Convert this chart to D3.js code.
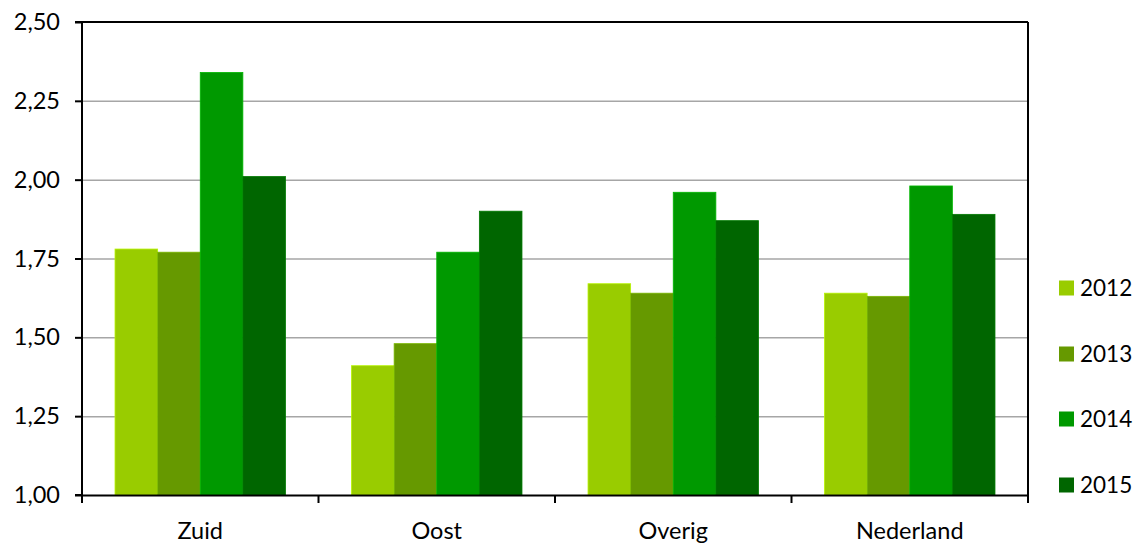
<!DOCTYPE html>
<html><head><meta charset="utf-8">
<script src="https://cdn.jsdelivr.net/npm/d3@7"></script>
<style>body{margin:0;background:#fff}svg{display:block}text{font-family:Lato,"Open Sans",sans-serif;fill:#000}</style>
</head><body><svg id="c" width="1139" height="543"></svg>
<script>
const categories = ["Zuid","Oost","Overig","Nederland"];
const seriesNames = ["2012","2013","2014","2015"];
const v2012 = [1.78,1.41,1.67,1.64];
const v2013 = [1.77,1.48,1.64,1.63];
const v2014 = [2.34,1.77,1.96,1.98];
const v2015 = [2.01,1.90,1.87,1.89];
const yTicks = [1.00,1.25,1.50,1.75,2.00,2.25,2.50];
const colors = ["#99cc00","#669900","#009900","#006600"];
const seriesVals = [v2012,v2013,v2014,v2015];

const svg = d3.select("#c");
const L=82, R=1028, T=22, B=495;
const FS = 23.5;
const x = d3.scaleBand().domain(categories).range([L,R]).paddingInner(0).paddingOuter(0);
const inner = d3.scaleBand().domain(seriesNames).range([0,x.bandwidth()]).paddingOuter(0.775).paddingInner(0);
const y = d3.scaleLinear().domain([1,2.5]).range([B,T]);

// gridlines
svg.append("g").selectAll("line").data(yTicks.slice(1,-1)).join("line")
  .attr("x1",L).attr("x2",R).attr("y1",d=>y(d)+0.5).attr("y2",d=>y(d)+0.5)
  .attr("stroke","#a6a6a6").attr("stroke-width",1.5);

// bars
const g = svg.append("g");
seriesNames.forEach((s,i)=>{
  g.selectAll(null).data(categories).join("rect")
    .attr("x",c=>x(c)+inner(s)).attr("width",inner.bandwidth())
    .attr("y",(c,j)=>y(seriesVals[i][j])).attr("height",(c,j)=>B-y(seriesVals[i][j]))
    .attr("fill",colors[i]).attr("stroke",d3.color(colors[i]).brighter(0.5)).attr("stroke-width",0.8);
});

// border top/right
svg.append("line").attr("x1",L).attr("x2",R).attr("y1",T).attr("y2",T).attr("stroke","#000").attr("stroke-width",2);
svg.append("line").attr("x1",R).attr("x2",R).attr("y1",T).attr("y2",B).attr("stroke","#000").attr("stroke-width",2);

// y axis
const yAx = d3.axisLeft(y).tickValues(yTicks).tickSize(7).tickFormat(d=>d3.format(".2f")(d).replace(".",","));
const ya = svg.append("g").attr("transform",`translate(${L},0)`).call(yAx);
ya.select(".domain").attr("stroke","#000").attr("stroke-width",2).attr("d",`M-7,${T}H0V${B}H-7`);
ya.selectAll(".tick line").attr("stroke","#000").attr("stroke-width",2);
ya.selectAll(".tick text").attr("x",-22).attr("font-size",FS).attr("font-family","Lato,sans-serif").attr("fill","#000");

// x axis
const xAx = d3.axisBottom(x).tickSize(0).tickPadding(27);
const xa = svg.append("g").attr("transform",`translate(0,${B})`).call(xAx);
xa.select(".domain").attr("stroke","#000").attr("stroke-width",2);
xa.selectAll(".tick text").attr("font-size",FS).attr("font-family","Lato,sans-serif").attr("fill","#000");
const bounds = categories.map(c=>x(c)).concat([R]);
svg.append("g").selectAll("line").data(bounds).join("line")
  .attr("x1",d=>d).attr("x2",d=>d).attr("y1",B).attr("y2",B+8).attr("stroke","#000").attr("stroke-width",2);

// legend
const leg = svg.append("g");
const ly = [288,354,419,485];
seriesNames.forEach((s,i)=>{
  leg.append("rect").attr("x",1059).attr("y",ly[i]-7.5).attr("width",15).attr("height",15).attr("fill",colors[i]);
  leg.append("text").attr("x",1080).attr("y",ly[i]).attr("dy","0.36em").attr("font-size",22.5).text(s);
});
</script></body></html>
